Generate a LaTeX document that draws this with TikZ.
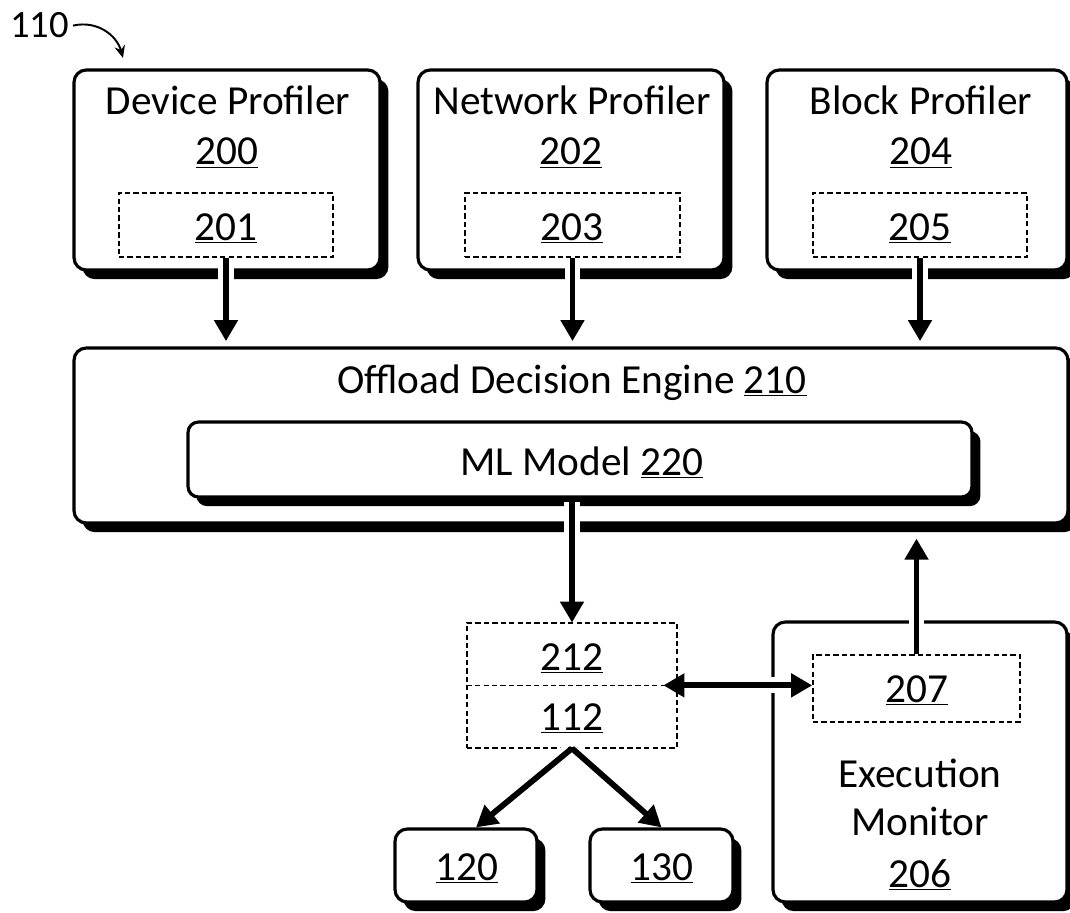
\documentclass[tikz,border=0pt]{standalone}
\usepackage{fontspec}
\setmainfont{Carlito}
\usetikzlibrary{arrows.meta,shadows,fit}
\begin{document}
\begin{tikzpicture}[x=0.02cm,y=-0.02cm,
  shbox/.style={draw, line width=1.8pt, rounded corners=7pt, fill=white, inner sep=0pt,
    drop shadow={shadow xshift=4.8pt, shadow yshift=-5.2pt, opacity=1, fill=black}},
  dbox/.style={draw, line width=0.9pt, dash pattern=on 3pt off 1.8pt, inner sep=0pt},
  plain/.style={inner sep=0pt},
  lbl/.style={inner sep=0pt, anchor=base, font=\fontsize{23.5}{28}\selectfont},
  arr/.style={line width=3.3pt, -{Triangle[length=12pt,width=13pt]}},
  darr/.style={line width=3.3pt, {Triangle[length=12pt,width=13pt]}-{Triangle[length=12pt,width=13pt]}},
  halo/.style={preaction={draw=white, line width=9pt, -, shorten >=14pt, shorten <=2pt}},
  halo2/.style={preaction={draw=white, line width=9pt, -, shorten >=14pt, shorten <=16pt}}
]
\useasboundingbox (0,0) rectangle (1070,912);

% reference label
\node[inner sep=0pt, anchor=base west, font=\fontsize{22}{26}\selectfont] (l110) at (10,38) {110};
\coordinate (c110) at (123,58);
\draw[line width=1.1pt, -{Stealth[length=7pt,width=6pt]}] ([xshift=2pt]l110.east) .. controls (98,20) and (117,36) .. (c110);

% profiler boxes
\coordinate (dA) at (74,70);  \coordinate (dB) at (380,270);
\node[shbox, fit=(dA)(dB)] (dev) {};
\coordinate (nA) at (418,70); \coordinate (nB) at (724,270);
\node[shbox, fit=(nA)(nB)] (net) {};
\coordinate (bA) at (767,70); \coordinate (bB) at (1067,270);
\node[shbox, fit=(bA)(bB)] (blk) {};

\node[lbl] (devT) at (228,115) {Device Profiler};
\node[lbl] (dev200) at (227,165) {\underline{200}};
\coordinate (d1A) at (119,193); \coordinate (d1B) at (333,257);
\node[dbox, fit=(d1A)(d1B)] (b201) {};
\node[lbl] (t201) at (226,240) {\underline{201}};

\node[lbl] (netT) at (572,115) {Network Profiler};
\node[lbl] (net202) at (571,165) {\underline{202}};
\coordinate (n1A) at (465,193); \coordinate (n1B) at (680,257);
\node[dbox, fit=(n1A)(n1B)] (b203) {};
\node[lbl] (t203) at (572,240) {\underline{203}};

\node[lbl] (blkT) at (921,115) {Block Profiler};
\node[lbl] (blk204) at (921,165) {\underline{204}};
\coordinate (b1A) at (813,193); \coordinate (b1B) at (1027,257);
\node[dbox, fit=(b1A)(b1B)] (b205) {};
\node[lbl] (t205) at (920,240) {\underline{205}};

% offload decision engine
\coordinate (oA) at (74,348); \coordinate (oB) at (1068,523);
\node[shbox, fit=(oA)(oB)] (off) {};
\node[lbl] (offT) at (572,393) {Offload Decision Engine \underline{210}};
\coordinate (mA) at (188,422); \coordinate (mB) at (972,497);
\node[shbox, rounded corners=6pt, fit=(mA)(mB)] (ml) {};
\node[lbl] (mlT) at (582,475) {ML Model \underline{220}};

% 212 / 112
\coordinate (pA) at (467,623); \coordinate (pB) at (677,685);
\coordinate (qA) at (467,685); \coordinate (qB) at (677,748);
\node[dbox, fit=(pA)(qB)] (b2x) {};
\node[plain, fit=(pA)(pB)] (b212) {};
\node[plain, fit=(qA)(qB)] (b112) {};
\draw[line width=0.9pt, dash pattern=on 3pt off 1.8pt] (b212.south west) -- (b212.south east);
\node[lbl] (t212) at (572,670) {\underline{212}};
\node[lbl] (t112) at (572,730) {\underline{112}};

% execution monitor
\coordinate (eA) at (773,622); \coordinate (eB) at (1067,902);
\node[shbox, fit=(eA)(eB)] (exe) {};
\coordinate (sA) at (813,655); \coordinate (sB) at (1020,722);
\node[dbox, fit=(sA)(sB)] (b207) {};
\node[lbl] (t207) at (917,702) {\underline{207}};
\node[lbl] (exeT1) at (920,787) {Execution};
\node[lbl] (exeT2) at (920,835) {Monitor};
\node[lbl] (exeT3) at (920,887) {\underline{206}};

% targets
\coordinate (uA) at (395,829); \coordinate (uB) at (537,902);
\node[shbox, fit=(uA)(uB)] (n120) {};
\node[lbl] (t120) at (467,880) {\underline{120}};
\coordinate (vA) at (590,829); \coordinate (vB) at (733,902);
\node[shbox, fit=(vA)(vB)] (n130) {};
\node[lbl] (t130) at (662,880) {\underline{130}};

% connectors
\draw[arr, halo, shorten >=3pt] (b201.south) -- (b201.south |- off.north);
\draw[arr, halo, shorten >=3pt] (b203.south) -- (b203.south |- off.north);
\draw[arr, halo, shorten >=3pt] (b205.south) -- (b205.south |- off.north);
\draw[arr, halo] (b212.north |- ml.south) -- (b212.north);
\draw[darr, halo2] ([xshift=-0.28cm]b212.south east) -- (b207.west |- b212.south east);
\draw[arr, halo, shorten >=0.28cm] (b207.north) -- (b207.north |- off.south);
\draw[arr, halo] (b112.south) -- ([xshift=0.2cm]n120.north);
\draw[arr, halo] (b112.south) -- (n130.north);
\end{tikzpicture}
\end{document}
